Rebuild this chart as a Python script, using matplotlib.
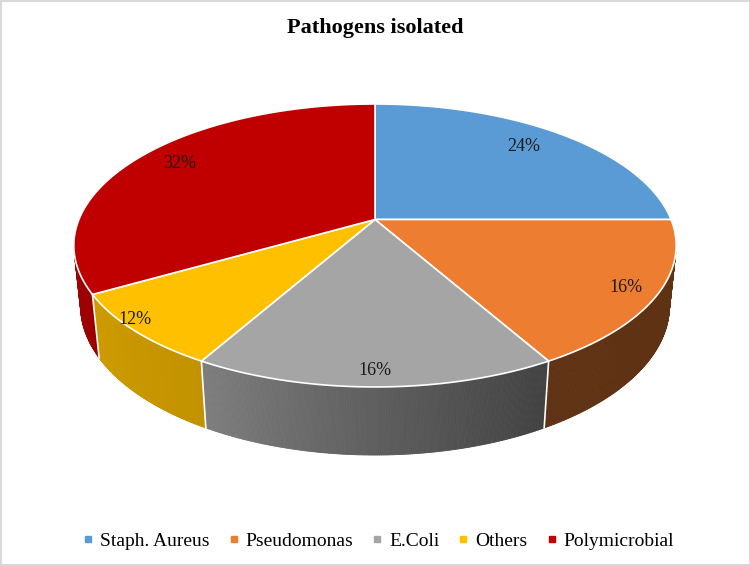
import numpy as np
import matplotlib
matplotlib.use('Agg')
import matplotlib.pyplot as plt
from matplotlib.collections import PolyCollection
from matplotlib.patches import Polygon, Rectangle
from matplotlib.lines import Line2D

# data
categories = ['Staph. Aureus', 'Pseudomonas', 'E.Coli', 'Others', 'Polymicrobial']
labels = ['24%', '16%', '16%', '12%', '32%']
# slice shares as drawn in the picture
values = [25.0, 16.8, 16.4, 8.5, 33.3]

colors = ['#5B9BD5', '#ED7D31', '#A5A5A5', '#FFC000', '#C00000']

# label placement (radius fraction on top face, extra pixel shift)
label_r = [0.78, 0.90, 0.92, 1.0, 0.82]
label_dy = [-5, 0, 0, -11, -4]

plt.rcParams['font.family'] = ['Liberation Serif', 'DejaVu Serif']

# perspective camera for the 3d pie
elev = np.radians(27.5)
s, c = np.sin(elev), np.cos(elev)
D = 4.83
F = 1430.0
CX, CY = 375.0, 219.5
H = 0.2314


def project(X, Y, Z):
    yc = Y * s + Z * c
    zc = Y * c - Z * s + D
    return CX + F * X / zc, CY - F * yc / zc


def rim(t, z=0.0, r=1.0):
    return project(r * np.cos(t), r * np.sin(t), z)


def shade(tdeg):
    return np.interp(tdeg, [-180, -166, -118.8, -90, -61.2, 0],
                     [0.84, 0.83, 0.76, 0.57, 0.40, 0.40])


def facing(t):
    # outward wall normal points at the camera
    return -D * c * np.sin(t) - 1 > 0


fig = plt.figure(figsize=(7.5, 5.65), dpi=100)
ax = fig.add_axes([0, 0, 1, 1])
ax.set_xlim(0, 750)
ax.set_ylim(565, 0)
ax.axis('off')

ax.add_patch(Rectangle((0.5, 0.5), 749, 564, fill=False, edgecolor='#d9d9d9', lw=1.5))

fracs = np.array(values, dtype=float) / sum(values)
bounds = 90 - 360 * np.concatenate([[0], np.cumsum(fracs)])

# side walls
quads, qcols = [], []
for i in range(len(values)):
    ts = np.linspace(bounds[i], bounds[i + 1], 200)
    base = np.array(matplotlib.colors.to_rgb(colors[i]))
    for a, b in zip(ts[:-1], ts[1:]):
        if not facing(np.radians((a + b) / 2)):
            continue
        ra, rb = np.radians(a), np.radians(b)
        quads.append([rim(ra), rim(rb), rim(rb, -H), rim(ra, -H)])
        tm = (a + b) / 2
        if tm > 0:
            tm -= 360
        qcols.append(np.clip(base * shade(tm), 0, 1))
ax.add_collection(PolyCollection(quads, facecolors=qcols, edgecolors=qcols, linewidths=0.6))

# white seams between slices on the wall
for b in bounds:
    r = np.radians(b)
    if facing(r):
        x0, y0 = rim(r)
        x1, y1 = rim(r, -H)
        ax.plot([x0, x1], [y0, y1], color='white', lw=1.2)

# top faces
for i in range(len(values)):
    ts = np.radians(np.linspace(bounds[i], bounds[i + 1], 200))
    xs, ys = rim(ts)
    pts = [project(0, 0, 0)] + list(zip(xs, ys))
    ax.add_patch(Polygon(pts, closed=True, facecolor=colors[i], edgecolor='white', lw=1.2))

# data labels
for i in range(len(values)):
    m = np.radians((bounds[i] + bounds[i + 1]) / 2)
    x, y = rim(m, 0, label_r[i])
    ax.text(x, y + label_dy[i], labels[i], ha='center', va='center', fontsize=13, color='#1a1a1a')

ax.text(375, 28, 'Pathogens isolated', ha='center', va='center', fontsize=16, fontweight='bold')

handles = [Line2D([], [], marker='s', linestyle='none', markersize=5,
                  markerfacecolor=col, markeredgecolor=col) for col in colors]
leg = ax.legend(handles, categories, loc='center', bbox_to_anchor=(0.504, 1 - 541 / 565),
                bbox_transform=fig.transFigure, ncol=5, frameon=False, fontsize=14,
                handlelength=0.6, handletextpad=0.3, columnspacing=0.95)

plt.savefig('out.png', dpi=100)
